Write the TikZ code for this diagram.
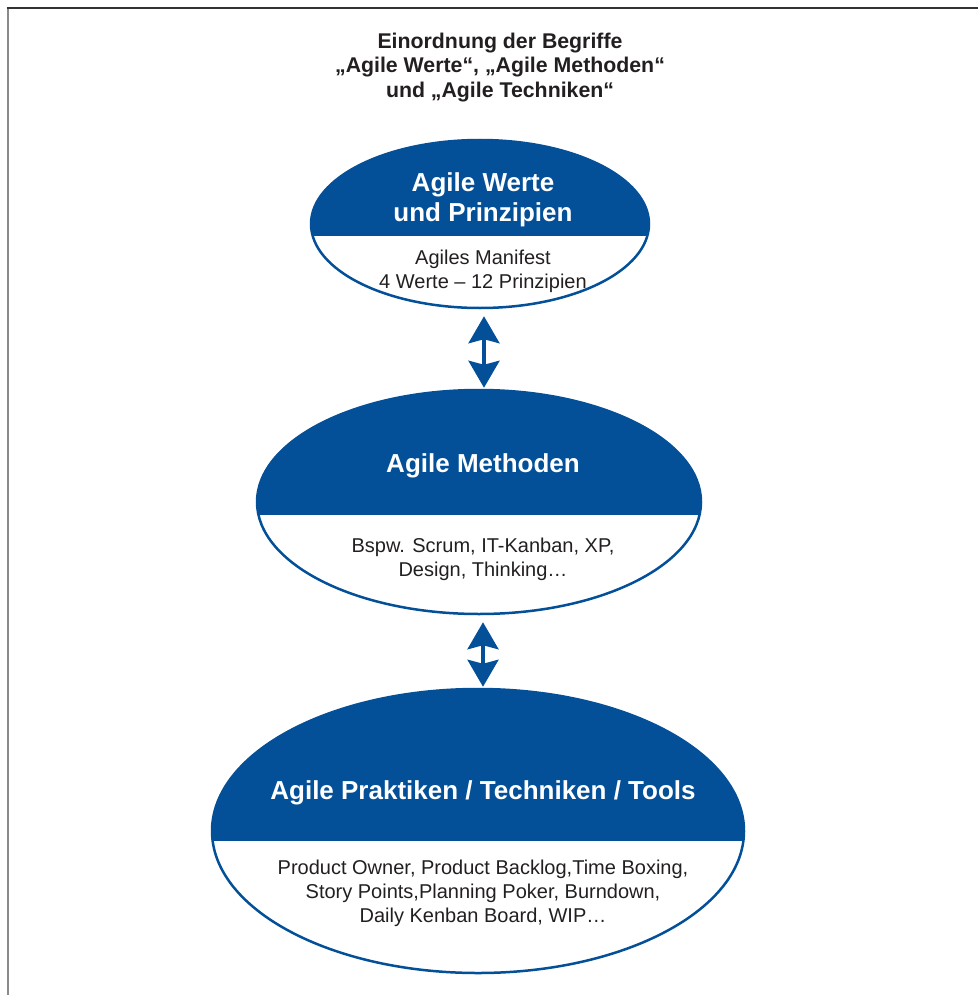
\documentclass[tikz,border=0pt]{standalone}
\usepackage{fontspec}
\setmainfont{Liberation Sans}
\usetikzlibrary{shapes.geometric,arrows.meta}
\definecolor{agileblue}{HTML}{034F98}
\definecolor{schrift}{HTML}{231F20}
\definecolor{rahmengrau}{HTML}{8A8A8A}

\begin{document}
\begin{tikzpicture}[x=1pt,y=-1pt,
    oval/.style={ellipse,draw=agileblue,line width=2.5pt,inner sep=0pt},
    kopf/.style={align=center,white,font=\fontsize{26}{29.5}\selectfont\bfseries},
    inhalt/.style={align=center,schrift,font=\fontsize{20}{24}\selectfont},
    titel/.style={align=center,schrift,font=\fontsize{21.3}{24.5}\selectfont\bfseries},
    arrow/.style={draw,agileblue,line width=3.5pt,
      {Stealth[length=27pt,width=31pt,inset=4pt]}-{Stealth[length=27pt,width=31pt,inset=4pt]}}]
    \useasboundingbox (0,0) rectangle (978,995);

    % frame
    \draw[line width=2pt,rahmengrau] (7.5,8) -- (7.5,995);
    \draw[line width=2pt,black!80] (6.5,8.5) -- (978,8.5);

    % title
    \node[titel] (titel) at (500,67.5) {Einordnung der Begriffe\\
      „Agile Werte“, „Agile Methoden“\\und „Agile Techniken“};

    % ovals, upper part filled
    \foreach \n/\cx/\cy/\rx/\ry/\sy in {werte/480/224/169/84/236,
        methoden/479/502/222/112/515,praktiken/478/831/266/142/841}
    {
      \begin{scope}
        \clip (\cx,\cy) ellipse [x radius=\rx, y radius=\ry];
        \fill[agileblue] (\cx-\rx,\cy-\ry) rectangle (\cx+\rx,\sy);
      \end{scope}
      \node[oval,minimum width=2*\rx,minimum height=2*\ry] (\n) at (\cx,\cy) {};
    }

    % texts
    \node[kopf] (werte-kopf) at (483,200) {Agile Werte\\und Prinzipien};
    \node[inhalt] (werte-inhalt) at (483,271.5) {Agiles Manifest\\4 Werte – 12 Prinzipien};
    \node[kopf] (methoden-kopf) at (483,466) {Agile Methoden};
    \node[inhalt] (methoden-inhalt) at (483,559) {Bspw. Scrum, IT-Kanban, XP,\\Design, Thinking…};
    \node[kopf] (praktiken-kopf) at (483,793) {Agile Praktiken / Techniken / Tools};
    \node[inhalt] (praktiken-inhalt) at (483,893) {Product Owner, Product Backlog,Time Boxing,\\
      Story Points,Planning Poker, Burndown,\\Daily Kenban Board, WIP…};

    % arrows
    \foreach \a/\b in {werte/methoden,methoden/praktiken}
    {
      \draw[arrow,shorten <=7pt,shorten >=1pt] ([xshift=4pt]\a.south) -- ([xshift=4pt]\a.south |- \b.north);
    }
\end{tikzpicture}
\end{document}
